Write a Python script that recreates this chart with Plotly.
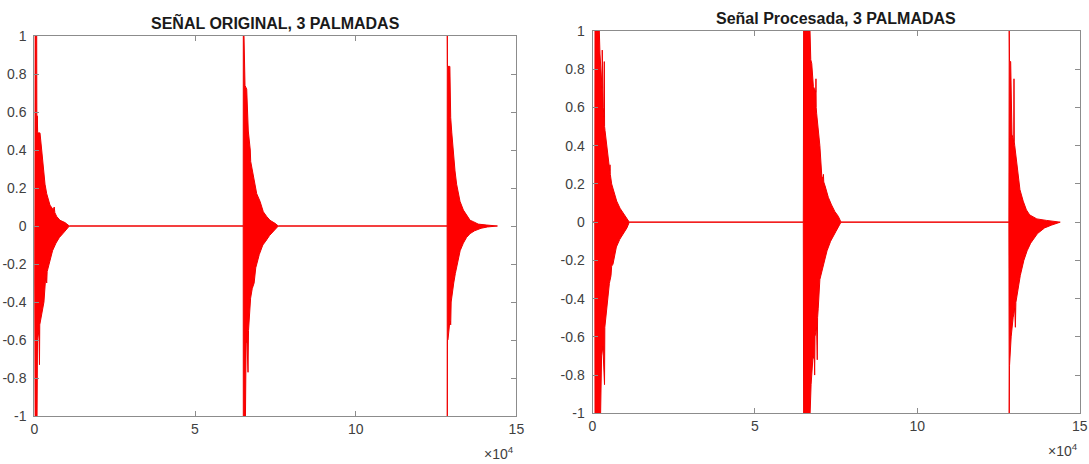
import plotly.graph_objects as go

# ---------------- data (x in samples, y amplitude) ----------------
# Señal original: upper / lower envelope of the waveform
orig_upper_x = [0, 150, 220, 750, 800, 930, 1050, 1770, 2300, 2800, 3330, 3860, 4880, 5900, 6200, 6400, 6970, 8000, 9550, 10900,
                65000, 65030, 65250, 65560, 66090, 66580, 67200, 67330, 67640, 68140, 69200, 70230, 71250, 72310, 73340, 74890, 75920,
                128450, 128500, 128550, 129300, 129560, 129900, 130400, 130900, 131400, 131900, 132450, 133500, 134550, 135600, 136600, 138100, 140800, 144100]
orig_upper_y = [0, 0, 1.0, 1.0, 0.5, 0.58, 0.49, 0.49, 0.40, 0.31, 0.22, 0.17, 0.11, 0.085, 0.10, 0.07, 0.05, 0.03, 0.018, 0,
                0, 1.0, 1.0, 0.74, 0.72, 0.5, 0.40, 0.34, 0.31, 0.26, 0.17, 0.13, 0.075, 0.05, 0.03, 0.014, 0,
                0, 1.0, 0.84, 0.84, 0.57, 0.49, 0.38, 0.29, 0.22, 0.17, 0.13, 0.084, 0.058, 0.03, 0.023, 0.01, 0.005, 0]
orig_lower_x = [0, 150, 220, 860, 1000, 1450, 1610, 1700, 1930, 2460, 3000, 3540, 3860, 4000, 4610, 5680, 6750, 7820, 8900, 10000, 10900,
                65000, 65030, 65700, 65900, 66150, 66500, 66650, 67300, 67800, 68400, 68900, 70000, 71100, 72000, 73200, 74800, 75920,
                128450, 128500, 128550, 128700, 129300, 129560, 129700, 130000, 130500, 131000, 131500, 132500, 133500, 134500, 135600, 137000, 139000, 141000, 144100]
orig_lower_y = [0, 0, -1.0, -1.0, -0.6, -0.55, -0.73, -0.52, -0.52, -0.45, -0.40, -0.27, -0.30, -0.24, -0.2, -0.13, -0.09, -0.06, -0.04, -0.02, 0,
                0, -1.0, -1.0, -0.62, -0.6, -0.77, -0.55, -0.38, -0.33, -0.3, -0.22, -0.15, -0.1, -0.08, -0.05, -0.02, 0,
                0, -1.0, -0.6, -0.6, -0.5, -0.52, -0.4, -0.38, -0.3, -0.25, -0.2, -0.13, -0.09, -0.06, -0.04, -0.025, -0.012, -0.005, 0]

# Señal procesada: upper / lower envelope
proc_upper_x = [0, 700, 770, 2100, 2300, 2830, 2950, 3000, 3080, 3300, 3550, 3630, 3720, 3850, 4370, 4860, 5300, 5390, 5480, 5900, 6400, 7450, 8470, 9480, 10530, 11330,
                64900, 65000, 66970, 67200, 67500, 68000, 68750, 68800, 68870, 69000, 69500, 70000, 70600, 71000, 71100, 71200, 71600, 72600, 73600, 74600, 75700, 76500,
                128200, 128300, 128400, 128750, 129150, 129700, 129770, 129850, 130000, 130600, 131100, 131600, 132600, 133600, 134600, 136800, 139800, 144000]
proc_upper_y = [0, 0, 1.0, 1.0, 0.88, 0.71, 0.70, 0.90, 0.66, 0.6, 0.55, 0.84, 0.5, 0.48, 0.40, 0.33, 0.27, 0.30, 0.25, 0.20, 0.17, 0.11, 0.073, 0.047, 0.02, 0,
                0, 1.0, 1.0, 0.85, 0.83, 0.71, 0.68, 0.75, 0.6, 0.57, 0.48, 0.40, 0.24, 0.23, 0.25, 0.21, 0.19, 0.13, 0.09, 0.056, 0.03, 0,
                0, 1.0, 0.84, 0.84, 0.46, 0.42, 0.75, 0.42, 0.40, 0.31, 0.22, 0.17, 0.11, 0.064, 0.038, 0.017, 0.009, 0]
proc_lower_x = [0, 700, 770, 2500, 2800, 3200, 3350, 3700, 3800, 4100, 4650, 5200, 5700, 5900, 6300, 7350, 8400, 9500, 10600, 11330,
                64900, 65000, 67000, 67300, 67900, 68300, 68400, 68500, 69000, 69200, 69300, 69500, 70000, 71100, 72200, 73300, 74900, 76500,
                128200, 128300, 128400, 128900, 129500, 130000, 130200, 130350, 130600, 131700, 132800, 133800, 134900, 137000, 139200, 141400, 144000]
proc_lower_y = [0, 0, -1.0, -1.0, -0.7, -0.65, -0.7, -0.85, -0.55, -0.5, -0.4, -0.32, -0.28, -0.23, -0.22, -0.13, -0.09, -0.06, -0.03, 0,
                0, -1.0, -1.0, -0.85, -0.7, -0.72, -0.8, -0.6, -0.55, -0.72, -0.5, -0.45, -0.3, -0.22, -0.15, -0.1, -0.05, 0,
                0, -1.0, -0.75, -0.6, -0.5, -0.45, -0.55, -0.42, -0.4, -0.28, -0.2, -0.15, -0.11, -0.06, -0.03, -0.015, 0]

x_tick_vals = [0, 50000, 100000, 150000]
x_tick_text = ["0", "5", "10", "15"]
y_tick_vals = [-1, -0.8, -0.6, -0.4, -0.2, 0, 0.2, 0.4, 0.6, 0.8, 1]
y_tick_text = ["-1", "-0.8", "-0.6", "-0.4", "-0.2", "0", "0.2", "0.4", "0.6", "0.8", "1"]

titles = ["SEÑAL ORIGINAL, 3 PALMADAS", "Señal Procesada, 3 PALMADAS"]

# ---------------- figure ----------------
W, H = 1089, 464
RED = "#ff0000"
FONT = "Liberation Sans, Arial, Helvetica, sans-serif"

fig = go.Figure()


def add_signal(ux, uy, lx, ly, xa, ya):
    fig.add_trace(go.Scatter(
        x=ux + lx[::-1], y=uy + ly[::-1],
        xaxis=xa, yaxis=ya, mode="lines", fill="toself",
        fillcolor=RED, line=dict(color="#f00000", width=1),
        hoverinfo="skip", showlegend=False))


add_signal(orig_upper_x, orig_upper_y, orig_lower_x, orig_lower_y, "x", "y")
add_signal(proc_upper_x, proc_upper_y, proc_lower_x, proc_lower_y, "x2", "y2")

# axes geometry in pixels
left_box = (34.3, 516.4, 36, 416)     # x0, x1, ytop, ybottom
right_box = (592.5, 1079.7, 31, 413.3)


def xdom(b):
    return [b[0] / W, b[1] / W]


def ydom(b):
    return [1 - b[3] / H, 1 - b[2] / H]


axis_common = dict(
    showline=True, linecolor="#8c8c8c", linewidth=1, mirror="ticks",
    ticks="inside", ticklen=5, tickcolor="#8c8c8c", tickwidth=1,
    showgrid=False, zeroline=False, automargin=False,
    tickfont=dict(family=FONT, size=14, color="#404040"),
)

fig.update_layout(
    width=W, height=H, template="none",
    paper_bgcolor="white", plot_bgcolor="white",
    margin=dict(l=0, r=0, t=0, b=0),
    showlegend=False,
    xaxis=dict(domain=xdom(left_box), range=[0, 150000], tickvals=x_tick_vals,
               ticktext=x_tick_text, anchor="y", **axis_common),
    yaxis=dict(domain=ydom(left_box), range=[-1, 1], tickvals=y_tick_vals,
               ticktext=y_tick_text, anchor="x", ticklabelstandoff=4, **axis_common),
    xaxis2=dict(domain=xdom(right_box), range=[0, 150000], tickvals=x_tick_vals,
                ticktext=x_tick_text, anchor="y2", **axis_common),
    yaxis2=dict(domain=ydom(right_box), range=[-1, 1], tickvals=y_tick_vals,
                ticktext=y_tick_text, anchor="x2", ticklabelstandoff=4, **axis_common),
)

for b, t in zip([left_box, right_box], titles):
    fig.add_annotation(
        text=f"<b>{t}</b>", xref="paper", yref="paper",
        x=(b[0] + b[1]) / 2 / W, y=1 - b[2] / H, xanchor="center", yanchor="bottom",
        yshift=2, showarrow=False,
        font=dict(family=FONT, size=16, color="#1a1a1a"))
    fig.add_annotation(
        text="×10<sup>4</sup>", xref="paper", yref="paper",
        x=b[1] / W, y=1 - (b[3] + 26) / H, xanchor="right", yanchor="top",
        showarrow=False, font=dict(family=FONT, size=14, color="#404040"))

fig.write_html("out.html", config={"displayModeBar": False},
               post_script="document.body.style.margin='0';document.body.style.overflow='hidden';")
